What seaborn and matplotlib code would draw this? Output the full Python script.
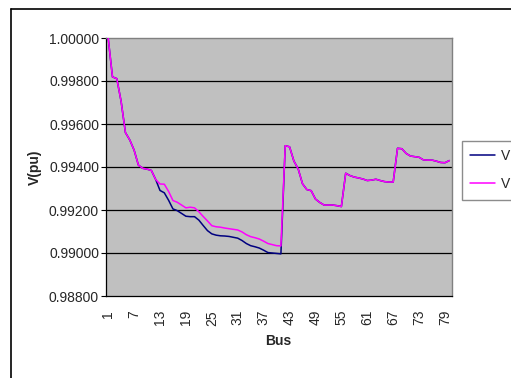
import numpy as np
import pandas as pd
import matplotlib
matplotlib.use("Agg")
import matplotlib.pyplot as plt
import seaborn as sns
from matplotlib.lines import Line2D

# ---- data ----
buses = list(range(1, 81))
v1 = [1.00000, 0.99819, 0.99811, 0.99705, 0.99560, 0.99526, 0.99479, 0.99409, 0.99394, 0.99390,
      0.99384, 0.99342, 0.99291, 0.99280, 0.99245, 0.99205, 0.99197, 0.99184, 0.99171, 0.99169,
      0.99169, 0.99153, 0.99128, 0.99104, 0.99089, 0.99083, 0.99080, 0.99079, 0.99077, 0.99073,
      0.99069, 0.99058, 0.99044, 0.99034, 0.99029, 0.99023, 0.99013, 0.99002, 0.99000, 0.98998,
      0.98996, 0.99499, 0.99494, 0.99428, 0.99391, 0.99322, 0.99295, 0.99290, 0.99251, 0.99235,
      0.99223, 0.99223, 0.99223, 0.99220, 0.99216, 0.99371, 0.99360, 0.99353, 0.99349, 0.99344,
      0.99337, 0.99339, 0.99343, 0.99337, 0.99332, 0.99330, 0.99330, 0.99487, 0.99485, 0.99463,
      0.99451, 0.99448, 0.99445, 0.99433, 0.99432, 0.99432, 0.99427, 0.99421, 0.99420, 0.99430]
v2 = [1.00000, 0.99819, 0.99811, 0.99705, 0.99560, 0.99526, 0.99479, 0.99409, 0.99394, 0.99390,
      0.99384, 0.99342, 0.99321, 0.99320, 0.99286, 0.99244, 0.99236, 0.99223, 0.99210, 0.99213,
      0.99210, 0.99192, 0.99170, 0.99149, 0.99127, 0.99122, 0.99120, 0.99116, 0.99113, 0.99110,
      0.99107, 0.99098, 0.99085, 0.99076, 0.99071, 0.99065, 0.99055, 0.99044, 0.99039, 0.99034,
      0.99033, 0.99499, 0.99494, 0.99428, 0.99391, 0.99322, 0.99295, 0.99290, 0.99251, 0.99235,
      0.99223, 0.99223, 0.99223, 0.99220, 0.99216, 0.99371, 0.99360, 0.99353, 0.99349, 0.99344,
      0.99337, 0.99339, 0.99343, 0.99337, 0.99332, 0.99330, 0.99330, 0.99487, 0.99485, 0.99463,
      0.99451, 0.99448, 0.99445, 0.99433, 0.99432, 0.99432, 0.99427, 0.99421, 0.99420, 0.99430]
series_names = ["V1", "V2"]
legend_labels = ["V", "V"]
x_tick_labels = list(range(1, 81, 6))
y_ticks = [0.988, 0.990, 0.992, 0.994, 0.996, 0.998, 1.000]

df = pd.DataFrame({
    "Bus": buses * 2,
    "V": v1 + v2,
    "Series": [series_names[0]] * len(buses) + [series_names[1]] * len(buses),
})

sns.set_style("white")
plt.rcParams["font.family"] = ["Liberation Sans", "DejaVu Sans"]

W, H = 511, 378
fig = plt.figure(figsize=(W / 100, H / 100), dpi=100)
ax = fig.add_axes([106 / W, 1 - 296 / H, 345.5 / W, 258 / H])
ax.set_facecolor("#C0C0C0")

colors = {"V1": "#000080", "V2": "#FF00FF"}
sns.lineplot(data=df, x="Bus", y="V", hue="Series", palette=colors, ax=ax,
             linewidth=1.1, legend=False, zorder=3)

ax.set_xlim(0.5, 80.5)
ax.set_ylim(0.988, 1.000)
ax.set_yticks(y_ticks)
ax.set_yticklabels([f"{t:.5f}" for t in y_ticks], fontsize=10)
ax.set_xticks(x_tick_labels)
ax.set_xticklabels([str(t) for t in x_tick_labels], rotation=90, fontsize=10)
ax.set_xticks(np.arange(0.5, 81, 1), minor=True)

ax.tick_params(axis="x", which="major", length=0, pad=10)
ax.tick_params(axis="x", which="minor", length=3.5, width=0.8, color="black", direction="out")
ax.tick_params(axis="y", which="major", length=3.5, width=0.8, color="black", direction="out", pad=1.5)
ax.tick_params(left=True, bottom=True)

ax.grid(False)
for y in y_ticks[1:-1]:
    ax.axhline(y, color="#000000", linewidth=0.9, zorder=1)

for side in ["top", "right"]:
    ax.spines[side].set_color("#808080")
    ax.spines[side].set_linewidth(1.0)
for side in ["left", "bottom"]:
    ax.spines[side].set_color("black")
    ax.spines[side].set_linewidth(0.9)
    ax.spines[side].set_visible(True)

ax.set_xlabel("Bus", fontsize=10, fontweight="bold", labelpad=6)
ax.set_ylabel("V(pu)", fontsize=10, fontweight="bold", labelpad=5)

handles = [Line2D([], [], color=colors[s], linewidth=1.1) for s in series_names]
leg = fig.legend(handles, legend_labels, loc="upper left",
                 bbox_to_anchor=(462 / W, 1 - 141 / H), fontsize=10,
                 frameon=True, fancybox=False, handlelength=1.8,
                 handletextpad=0.4, labelspacing=1.0, borderpad=0.6,
                 borderaxespad=0)
leg.get_frame().set_edgecolor("#707070")
leg.get_frame().set_linewidth(1.0)

# outer chart border (extends beyond the image on right and bottom)
fig.add_artist(Line2D([11 / W, 1.0], [1 - 9 / H, 1 - 9 / H], color="black", linewidth=1.2,
                      transform=fig.transFigure))
fig.add_artist(Line2D([11 / W, 11 / W], [0.0, 1 - 9 / H], color="black", linewidth=1.2,
                      transform=fig.transFigure))

fig.savefig("out.png", dpi=100)
